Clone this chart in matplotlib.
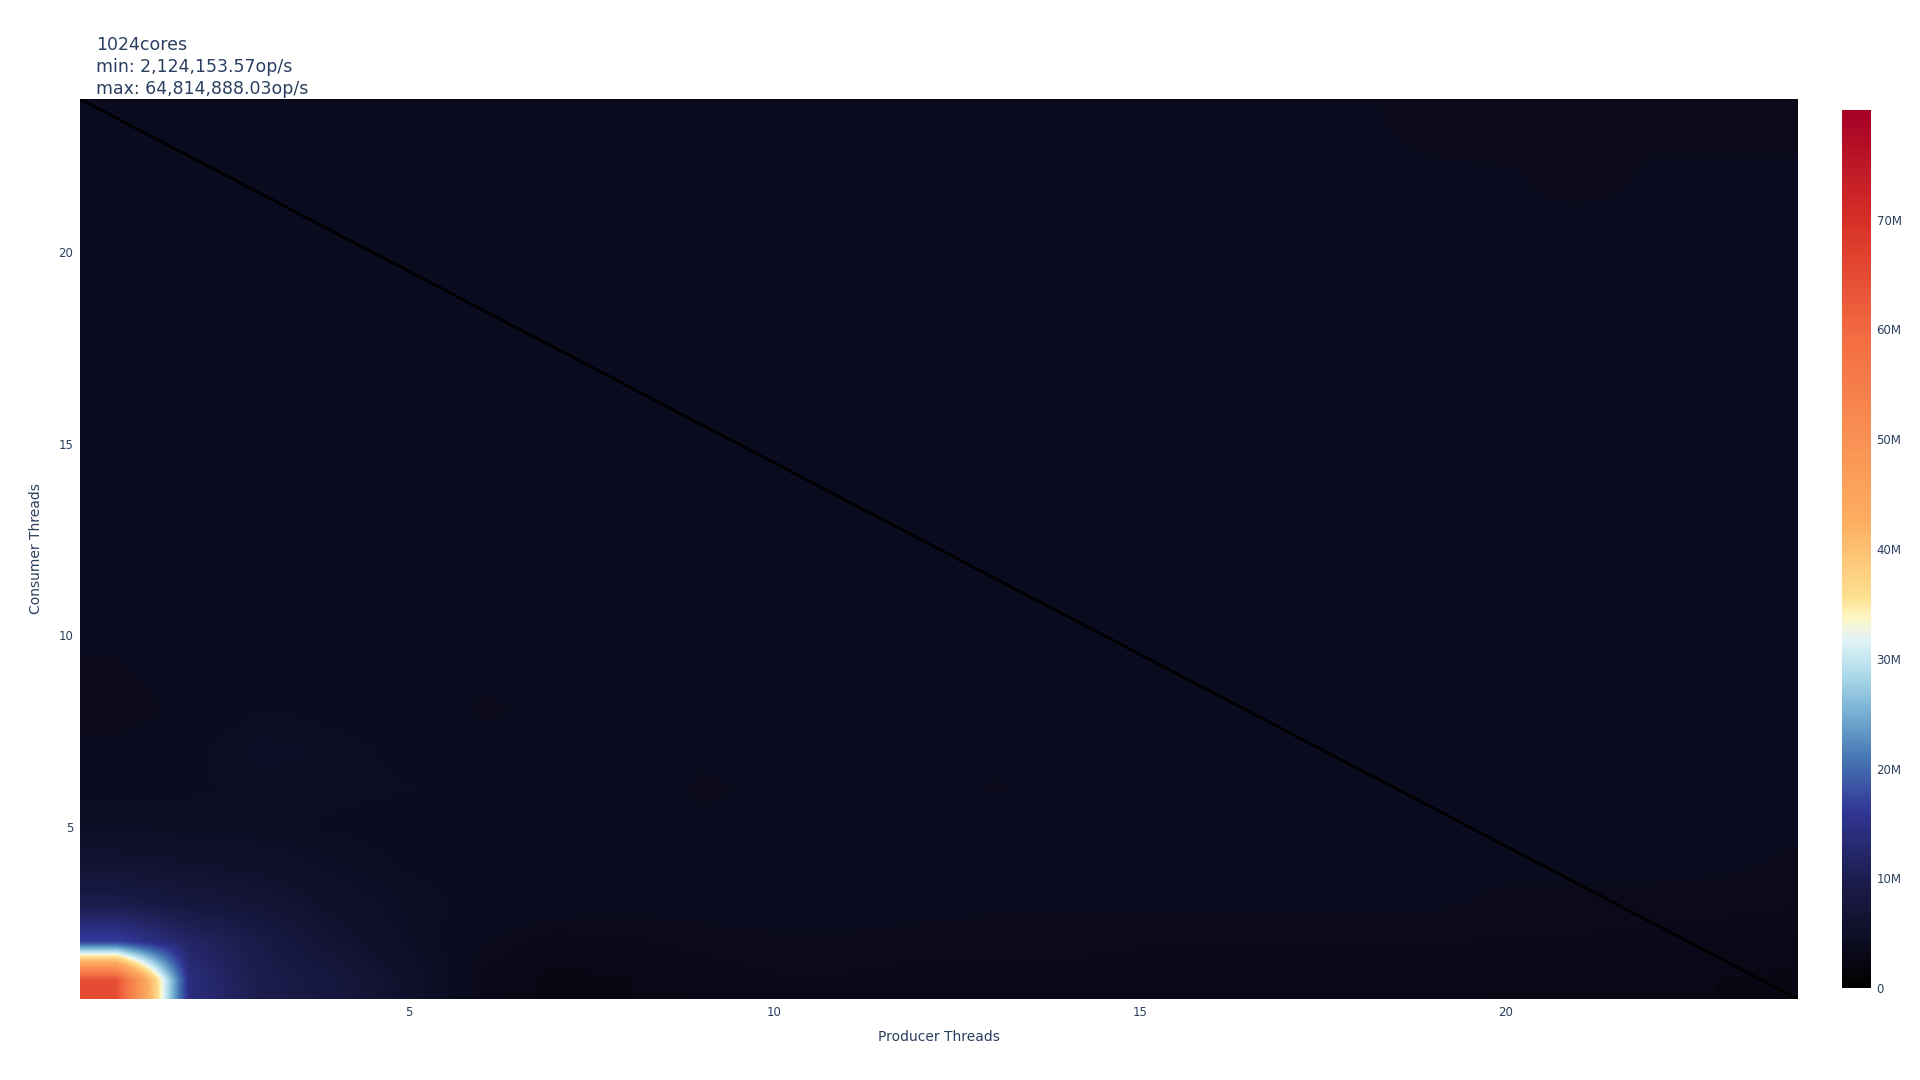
import matplotlib
matplotlib.use('Agg')
import matplotlib.pyplot as plt
import numpy as np
from matplotlib.colors import LinearSegmentedColormap

# thread counts on both axes
producer_threads = list(range(1, 25))
consumer_threads = list(range(1, 25))

# throughput in millions of op/s, one row per consumer thread count (1 at the bottom)
ops_y01 = [64.81, 14.0, 9.5, 8.0, 5.5, 3.4, 2.6, 2.8, 3.2, 3.4, 3.4, 3.3, 3.3, 3.3, 3.2, 3.2, 3.2, 3.2, 3.2, 3.1, 3.0, 2.9, 2.8, 2.7]
ops_y02 = [17.0, 12.0, 9.0, 6.5, 4.8, 3.8, 3.3, 3.4, 3.6, 3.7, 3.7, 3.6, 3.6, 3.6, 3.5, 3.5, 3.5, 3.5, 3.5, 3.4, 3.4, 3.3, 3.2, 3.1]
ops_y03 = [9.5, 8.0, 7.0, 5.5, 4.6, 4.2, 4.0, 3.9, 3.9, 3.9, 3.9, 3.9, 3.8, 3.8, 3.8, 3.8, 3.8, 3.8, 3.8, 3.7, 3.7, 3.7, 3.6, 3.5]
ops_y04 = [6.5, 6.0, 5.5, 4.8, 4.3, 4.1, 4.0, 4.0, 3.9, 3.9, 3.9, 3.9, 3.9, 3.9, 3.9, 3.9, 3.9, 3.9, 3.8, 3.8, 3.8, 3.8, 3.8, 3.7]
ops_y05 = [4.8, 4.6, 4.5, 4.3, 4.1, 4.0, 4.0, 3.9, 3.8, 3.9, 3.9, 4.0, 4.0, 3.9, 3.9, 4.0, 4.0, 3.9, 3.9, 3.9, 3.9, 3.9, 3.8, 3.8]
ops_y06 = [4.2, 4.3, 4.5, 4.5, 4.4, 4.3, 4.1, 4.0, 3.7, 3.8, 3.9, 4.0, 3.7, 3.9, 4.1, 4.1, 4.1, 4.0, 3.9, 3.9, 3.9, 3.9, 3.8, 3.8]
ops_y07 = [3.9, 4.2, 4.9, 4.6, 4.2, 3.9, 3.9, 3.9, 3.8, 3.9, 3.9, 3.9, 3.9, 3.9, 4.0, 4.1, 4.0, 4.0, 3.9, 3.9, 3.9, 3.9, 3.8, 3.8]
ops_y08 = [3.5, 3.9, 4.4, 4.2, 4.0, 3.7, 3.8, 3.9, 3.9, 3.9, 3.9, 3.9, 3.9, 3.9, 4.0, 4.0, 3.9, 3.9, 3.9, 3.9, 3.9, 3.9, 3.8, 3.8]
ops_y09 = [3.7, 3.9, 4.0, 4.0, 3.9, 3.8, 3.9, 3.9, 3.9, 3.9, 3.9, 3.9, 4.0, 4.0, 3.9, 3.9, 3.9, 3.9, 3.9, 3.9, 3.9, 3.9, 3.8, 3.8]
ops_y10 = [3.8, 3.9, 4.0, 4.0, 3.9, 3.9, 3.9, 3.9, 4.0, 4.0, 3.9, 3.9, 3.9, 4.0, 4.0, 3.9, 3.9, 3.9, 3.9, 3.9, 3.9, 3.9, 3.9, 3.8]
ops_y11 = [3.8, 3.9, 4.0, 4.0, 4.0, 3.9, 3.9, 4.0, 4.0, 4.0, 3.9, 3.9, 3.9, 3.9, 4.0, 4.0, 4.0, 3.9, 3.9, 3.9, 3.9, 3.9, 3.8, 3.8]
ops_y12 = [3.9, 3.9, 4.0, 4.0, 3.9, 3.9, 4.0, 4.0, 4.0, 3.9, 3.9, 3.9, 3.9, 3.9, 3.9, 4.0, 4.0, 3.9, 3.9, 3.9, 3.9, 3.9, 3.8, 3.8]
ops_y13 = [3.9, 4.0, 4.0, 4.0, 3.9, 3.9, 4.0, 4.0, 4.0, 4.0, 3.9, 3.9, 3.9, 3.9, 4.0, 4.0, 3.9, 3.9, 3.9, 3.9, 3.9, 3.9, 3.9, 3.8]
ops_y14 = [3.9, 4.0, 4.0, 4.0, 3.9, 3.9, 4.0, 4.0, 4.0, 4.0, 4.0, 3.9, 3.9, 3.9, 3.9, 3.9, 3.9, 3.9, 3.9, 3.9, 3.9, 3.9, 3.9, 3.8]
ops_y15 = [3.9, 4.0, 4.0, 4.0, 3.9, 3.9, 4.0, 4.0, 4.0, 4.0, 4.0, 3.9, 3.9, 3.9, 3.9, 3.9, 3.9, 3.9, 3.9, 3.9, 3.9, 3.9, 3.9, 3.8]
ops_y16 = [3.9, 3.9, 4.0, 4.0, 3.9, 3.9, 3.9, 3.9, 4.0, 3.9, 3.9, 3.9, 3.9, 3.9, 3.9, 3.9, 3.9, 3.9, 3.9, 3.9, 3.9, 3.9, 3.9, 3.8]
ops_y17 = [3.9, 3.9, 4.0, 4.0, 3.9, 3.9, 3.9, 3.9, 3.9, 3.9, 3.9, 3.9, 3.9, 3.9, 3.9, 3.9, 3.9, 3.9, 3.9, 3.9, 3.9, 3.9, 3.9, 3.8]
ops_y18 = [3.8, 3.9, 4.0, 3.9, 3.9, 3.9, 3.9, 3.9, 3.9, 3.9, 3.9, 3.9, 3.9, 3.9, 3.9, 3.9, 3.9, 3.9, 3.9, 3.9, 3.9, 3.8, 3.8, 3.8]
ops_y19 = [3.8, 3.9, 3.9, 3.9, 3.9, 3.9, 3.9, 3.9, 3.9, 3.9, 3.9, 3.9, 3.9, 3.9, 3.9, 3.9, 3.9, 3.9, 3.9, 3.9, 3.9, 3.8, 3.8, 3.8]
ops_y20 = [3.8, 3.9, 3.9, 3.9, 3.9, 3.9, 3.9, 3.9, 3.9, 3.9, 3.9, 3.9, 3.9, 3.9, 3.9, 3.9, 3.9, 3.9, 3.9, 3.9, 3.9, 3.8, 3.8, 3.8]
ops_y21 = [3.8, 3.8, 3.9, 3.9, 3.9, 3.9, 3.9, 3.9, 3.9, 3.9, 3.9, 3.9, 3.9, 3.9, 3.9, 3.9, 3.9, 3.9, 3.9, 3.8, 3.8, 3.8, 3.8, 3.8]
ops_y22 = [3.8, 3.8, 3.8, 3.8, 3.8, 3.8, 3.8, 3.8, 3.8, 3.8, 3.8, 3.8, 3.8, 3.8, 3.8, 3.8, 3.8, 3.8, 3.8, 3.8, 3.6, 3.8, 3.8, 3.8]
ops_y23 = [3.8, 3.8, 3.8, 3.8, 3.8, 3.8, 3.8, 3.8, 3.8, 3.8, 3.8, 3.8, 3.8, 3.8, 3.8, 3.8, 3.8, 3.8, 3.7, 3.6, 3.6, 3.7, 3.7, 3.7]
ops_y24 = [3.8, 3.8, 3.8, 3.8, 3.8, 3.8, 3.8, 3.8, 3.8, 3.8, 3.8, 3.8, 3.8, 3.8, 3.8, 3.8, 3.8, 3.8, 3.6, 3.5, 3.5, 3.6, 3.6, 3.5]

# diagonal reference line
line_x = [0.5, 24]
line_y = [24, 0.5]

title_lines = ['1024cores', 'min: 2,124,153.57op/s', 'max: 64,814,888.03op/s']
cbar_ticks = [0, 10e6, 20e6, 30e6, 40e6, 50e6, 60e6, 70e6]
cbar_labels = ['0', '10M', '20M', '30M', '40M', '50M', '60M', '70M']

rows = [ops_y01, ops_y02, ops_y03, ops_y04, ops_y05, ops_y06, ops_y07, ops_y08,
        ops_y09, ops_y10, ops_y11, ops_y12, ops_y13, ops_y14, ops_y15, ops_y16,
        ops_y17, ops_y18, ops_y19, ops_y20, ops_y21, ops_y22, ops_y23, ops_y24]
z = np.array(rows) * 1e6

# black into a reversed RdYlBu style scale
cmap = LinearSegmentedColormap.from_list('cores', [
    (0.0, '#000000'),
    (0.125, '#1d1e50'),
    (0.2, '#313695'),
    (0.26, '#4575b4'),
    (0.31, '#74add1'),
    (0.355, '#abd9e9'),
    (0.395, '#e0f3f8'),
    (0.42, '#fdf7c8'),
    (0.445, '#fee090'),
    (0.53, '#fdae61'),
    (0.74, '#f46d43'),
    (0.875, '#d73027'),
    (1.0, '#a50026'),
])

plt.rcParams['font.family'] = ['DejaVu Sans']
text_col = '#2a3f5f'

fig = plt.figure(figsize=(19.2, 10.8), dpi=100)
ax = fig.add_axes([80 / 1920, 81 / 1080, 1717.6 / 1920, 900 / 1080])
im = ax.imshow(z, cmap=cmap, vmin=0, vmax=80e6, origin='lower', aspect='auto',
               interpolation='bilinear', interpolation_stage='data',
               extent=(producer_threads[0] - 0.5, producer_threads[-1] + 0.5,
                       consumer_threads[0] - 0.5, consumer_threads[-1] + 0.5))
ax.plot(line_x, line_y, color='black', linewidth=2)
ax.set_xlim(0.5, 24)
ax.set_ylim(0.5, 24)

ax.set_xticks([5, 10, 15, 20])
ax.set_yticks([5, 10, 15, 20])
ax.tick_params(length=0, labelsize=8.5, labelcolor=text_col, pad=5)
for s in ax.spines.values():
    s.set_visible(False)
ax.set_xlabel('Producer Threads', fontsize=10, color=text_col, labelpad=8)
ax.set_ylabel('Consumer Threads', fontsize=10, color=text_col, labelpad=11)

# colorbar on the right
cax = fig.add_axes([1841.6 / 1920, 92 / 1080, 29.4 / 1920, 878 / 1080])
cb = fig.colorbar(im, cax=cax)
cb.set_ticks(cbar_ticks)
cb.set_ticklabels(cbar_labels)
cb.outline.set_visible(False)
cax.tick_params(length=0, labelsize=8.5, labelcolor=text_col, pad=4)

# three line title in the top left
for i, t in enumerate(title_lines):
    fig.text(96 / 1920, 1 - (45 + 22 * i) / 1080, t, fontsize=12.5, color=text_col,
             va='center', ha='left')

fig.savefig('out.png', dpi=100)
